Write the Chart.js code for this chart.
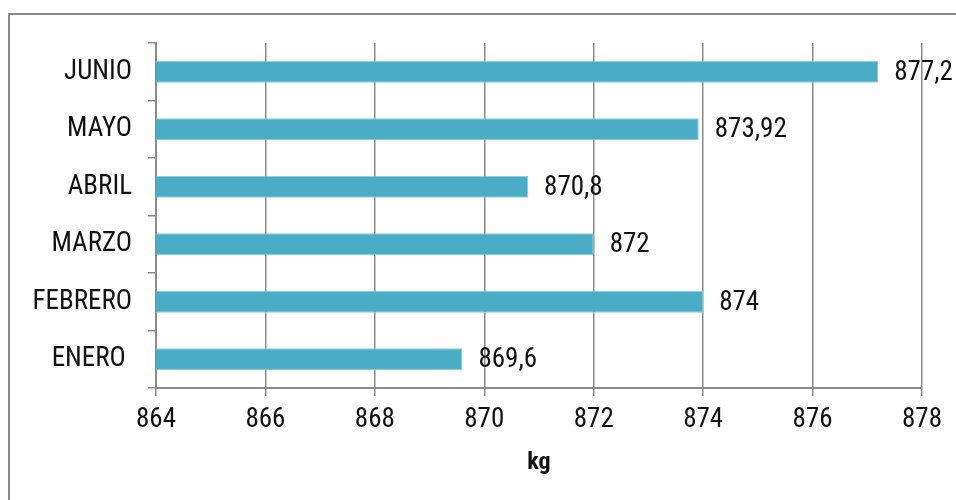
<!DOCTYPE html>
<html>
<head>
<meta charset="utf-8">
<script src="https://cdn.jsdelivr.net/npm/chart.js@4/dist/chart.umd.min.js"></script>
<style>
  html, body { margin: 0; padding: 0; background: #ffffff; }
  #wrap { position: absolute; left: 0; top: 0; width: 956px; height: 500px; }
</style>
</head>
<body>
<div id="wrap"><canvas id="c" width="956" height="500"></canvas></div>
<script>
// Monthly weight, top to bottom
const months = ['JUNIO', 'MAYO', 'ABRIL', 'MARZO', 'FEBRERO', 'ENERO '];
const weightKg = [877.2, 873.92, 870.8, 872, 874, 869.6];
const axisMin = 864;
const axisMax = 878;
const axisStep = 2;
const axisTitle = 'kg';

const FONT = "'Roboto Condensed', 'Liberation Sans Narrow', 'Liberation Sans', sans-serif";
const GRID = '#8a8a8a';
const TEXT = '#111111';
const SIZE = 27;

const fmt = v => String(v).replace('.', ',');

// Outer frame around the chart
const framePlugin = {
  id: 'frame',
  beforeDraw(chart) {
    const ctx = chart.ctx;
    ctx.save();
    ctx.strokeStyle = '#8a8a8a';
    ctx.lineWidth = 2;
    ctx.strokeRect(9, 14, 960, 500);
    ctx.restore();
  }
};

// Value labels to the right of each bar
const valueLabels = {
  id: 'valueLabels',
  afterDatasetsDraw(chart) {
    const ctx = chart.ctx;
    const meta = chart.getDatasetMeta(0);
    ctx.save();
    ctx.font = SIZE + 'px ' + FONT;
    ctx.fillStyle = TEXT;
    ctx.textAlign = 'left';
    ctx.textBaseline = 'middle';
    meta.data.forEach((bar, i) => {
      ctx.fillText(fmt(chart.data.datasets[0].data[i]), bar.x + 16, bar.y + 1);
    });
    ctx.restore();
  }
};

new Chart(document.getElementById('c'), {
  type: 'bar',
  data: {
    labels: months,
    datasets: [{
      data: weightKg,
      backgroundColor: '#4bacc6',
      borderColor: '#8fcadb',
      borderWidth: 1,
      borderSkipped: false,
      barPercentage: 0.385,
      categoryPercentage: 1
    }]
  },
  options: {
    indexAxis: 'y',
    responsive: false,
    animation: false,
    layout: { padding: { left: 0, right: 34, top: 43, bottom: 0 } },
    plugins: {
      legend: { display: false },
      tooltip: { enabled: false }
    },
    scales: {
      x: {
        min: axisMin,
        max: axisMax,
        afterFit(scale) { scale.height = 112; },
        ticks: {
          stepSize: axisStep,
          color: TEXT,
          font: { family: FONT, size: SIZE },
          padding: 8
        },
        grid: {
          color: GRID,
          lineWidth: 1.5,
          tickLength: 8,
          drawTicks: true
        },
        border: { color: GRID, width: 2 },
        title: {
          display: true,
          text: axisTitle,
          color: TEXT,
          font: { family: FONT, size: 24, weight: 'bold' },
          padding: { top: 0, bottom: 23 }
        }
      },
      y: {
        afterFit(scale) { scale.width = 156; },
        ticks: {
          color: TEXT,
          font: { family: FONT, size: SIZE },
          padding: 16
        },
        grid: {
          offset: true,
          color: GRID,
          lineWidth: 1.5,
          drawOnChartArea: false,
          tickLength: 8
        },
        border: { color: GRID, width: 2 }
      }
    }
  },
  plugins: [framePlugin, valueLabels]
});
</script>
</body>
</html>
